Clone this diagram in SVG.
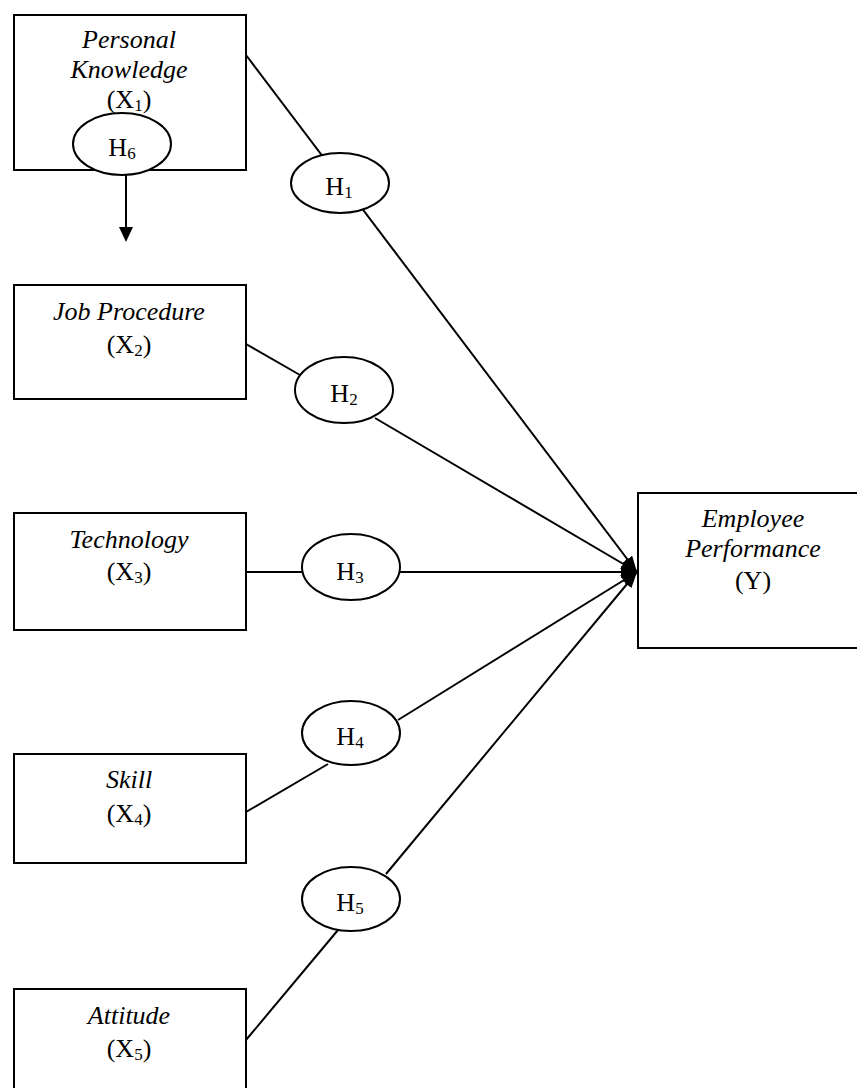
<svg xmlns="http://www.w3.org/2000/svg" width="857" height="1088" viewBox="0 0 857 1088">
<style>
.box{fill:#fff;stroke:#000;stroke-width:2}
.ell{fill:#fff;stroke:#000;stroke-width:2}
.ln{stroke:#000;stroke-width:2;fill:none}
text{font-family:"Liberation Serif","Times New Roman",serif;font-size:26px;fill:#000;text-anchor:middle}
.it{font-style:italic}
.sub{font-size:17px}
</style>
<defs>
<marker id="ah" viewBox="0 0 16 12" refX="16" refY="6" markerWidth="16" markerHeight="12" markerUnits="userSpaceOnUse" orient="auto">
<path d="M0,0 L16,6 L0,12 Z" fill="#000"/>
</marker>
</defs>
<g id="connectors">
<line class="ln" x1="246" y1="55" x2="637" y2="572" marker-end="url(#ah)"/>
<line class="ln" x1="246" y1="344" x2="300" y2="375"/>
<line class="ln" x1="375" y1="418" x2="637" y2="572" marker-end="url(#ah)"/>
<line class="ln" x1="246" y1="572" x2="637" y2="572" marker-end="url(#ah)"/>
<line class="ln" x1="246" y1="812" x2="328" y2="764"/>
<line class="ln" x1="398" y1="720" x2="637" y2="572" marker-end="url(#ah)"/>
<line class="ln" x1="246" y1="1040" x2="338" y2="930"/>
<line class="ln" x1="386" y1="874" x2="637" y2="572" marker-end="url(#ah)"/>
<line class="ln" x1="126" y1="174" x2="126" y2="230"/>
<path d="M119,227 L133,227 L126,242 Z" fill="#000"/>
</g>
<g id="x1">
<rect class="box" x="14" y="15" width="232" height="155"/>
<text class="it" x="129" y="48">Personal</text>
<text class="it" x="129" y="78">Knowledge</text>
<text x="129" y="108">(X<tspan class="sub" dy="3">1</tspan><tspan dy="-3">)</tspan></text>
</g>
<g id="h6">
<ellipse class="ell" cx="122" cy="144" rx="49" ry="31"/>
<text x="122" y="156">H<tspan class="sub" dy="3">6</tspan></text>
</g>
<g id="h1">
<ellipse class="ell" cx="340" cy="183" rx="49" ry="30"/>
<text x="339" y="195">H<tspan class="sub" dy="3">1</tspan></text>
</g>
<g id="x2">
<rect class="box" x="14" y="285" width="232" height="114"/>
<text class="it" x="129" y="320">Job Procedure</text>
<text x="129" y="353">(X<tspan class="sub" dy="3">2</tspan><tspan dy="-3">)</tspan></text>
</g>
<g id="h2">
<ellipse class="ell" cx="344" cy="390" rx="49" ry="33"/>
<text x="344" y="402">H<tspan class="sub" dy="3">2</tspan></text>
</g>
<g id="x3">
<rect class="box" x="14" y="513" width="232" height="117"/>
<text class="it" x="129" y="548">Technology</text>
<text x="129" y="580">(X<tspan class="sub" dy="3">3</tspan><tspan dy="-3">)</tspan></text>
</g>
<g id="h3">
<ellipse class="ell" cx="351" cy="567" rx="49" ry="33"/>
<text x="350" y="580">H<tspan class="sub" dy="3">3</tspan></text>
</g>
<g id="x4">
<rect class="box" x="14" y="754" width="232" height="109"/>
<text class="it" x="129" y="788">Skill</text>
<text x="129" y="822">(X<tspan class="sub" dy="3">4</tspan><tspan dy="-3">)</tspan></text>
</g>
<g id="h4">
<ellipse class="ell" cx="351" cy="733" rx="49" ry="32"/>
<text x="350" y="745">H<tspan class="sub" dy="3">4</tspan></text>
</g>
<g id="h5">
<ellipse class="ell" cx="351" cy="899" rx="49" ry="32"/>
<text x="350" y="911">H<tspan class="sub" dy="3">5</tspan></text>
</g>
<g id="x5">
<rect class="box" x="14" y="989" width="232" height="120"/>
<text class="it" x="129" y="1024">Attitude</text>
<text x="129" y="1057">(X<tspan class="sub" dy="3">5</tspan><tspan dy="-3">)</tspan></text>
</g>
<g id="y">
<rect class="box" x="638" y="493" width="232" height="155"/>
<text class="it" x="753" y="527">Employee</text>
<text class="it" x="753" y="557">Performance</text>
<text x="753" y="589">(Y)</text>
</g>
</svg>
